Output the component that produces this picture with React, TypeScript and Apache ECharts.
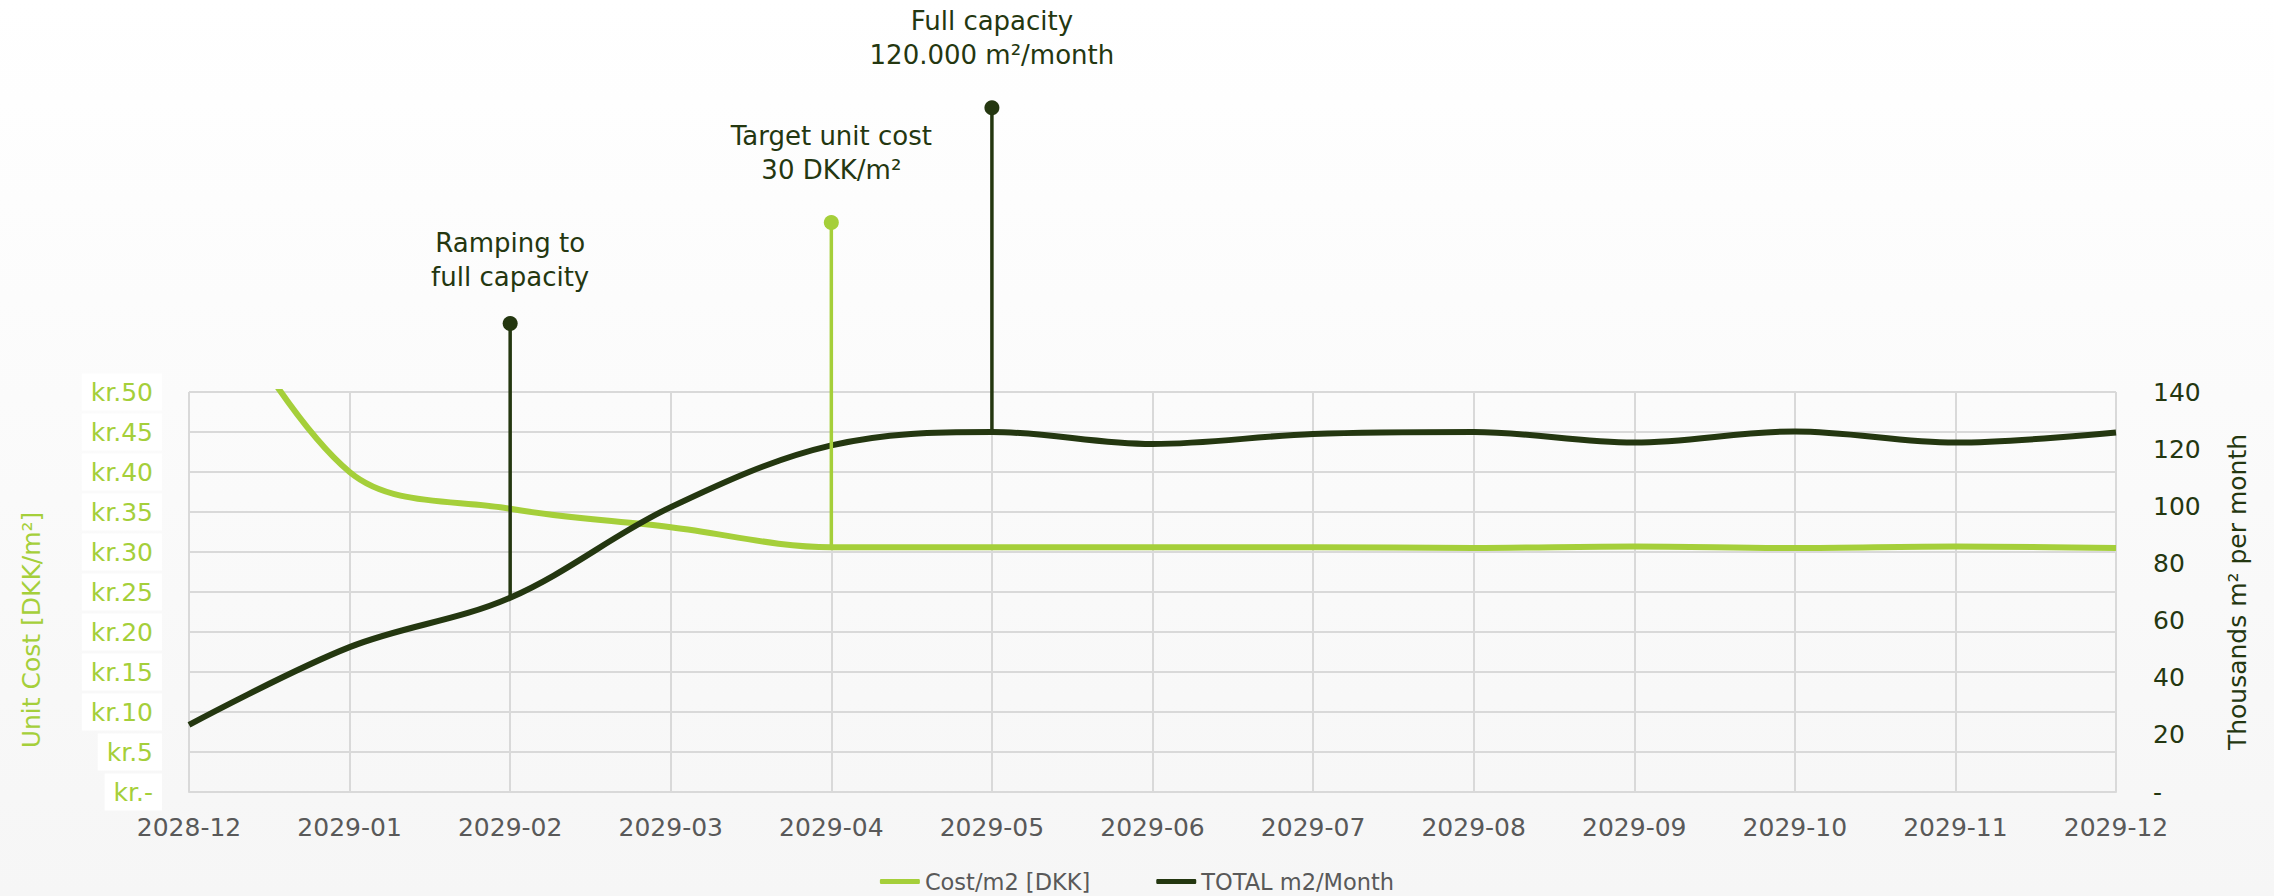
import React, { useEffect, useRef } from 'react';
import * as echarts from 'echarts';

const months = ['2028-12', '2029-01', '2029-02', '2029-03', '2029-04', '2029-05', '2029-06', '2029-07', '2029-08', '2029-09', '2029-10', '2029-11', '2029-12'];
const costPerM2 = [69, 40.0, 35.4, 33.1, 30.6, 30.6, 30.6, 30.6, 30.5, 30.7, 30.5, 30.7, 30.5];
const totalM2 = [23.5, 50.7, 68, 99.7, 121.3, 126, 121.8, 125.3, 126, 122.3, 126.2, 122.3, 125.8];

const costName = 'Cost/m2 [DKK]';
const totalName = 'TOTAL m2/Month';

// annotation: month, which series it sits on, label, top of the pin (in that series' axis units)
const annotations = [
  { month: '2029-02', on: 'total', text: 'Ramping to\nfull capacity', top: 164 },
  { month: '2029-04', on: 'cost', text: 'Target unit cost\n30 DKK/m²', top: 71.2 },
  { month: '2029-05', on: 'total', text: 'Full capacity\n120.000 m²/month', top: 239.5 },
];
const annotationTextGap = [29, 35, 35];

const GREEN = '#a5cf3a';
const DARK = '#243710';
const GRID = '#d9d9d9';
const FONT = 'DejaVu Sans';

export default function App() {
  const ref = useRef<HTMLDivElement>(null);
  useEffect(() => {
    document.body.style.margin = '0';
    const chart = echarts.init(ref.current!, undefined, { renderer: 'svg' });

    const annSeries = annotations.map((a, i) => {
      const idx = months.indexOf(a.month);
      const base = a.on === 'cost' ? costPerM2[idx] : totalM2[idx];
      const color = a.on === 'cost' ? GREEN : DARK;
      return {
        type: 'custom',
        name: 'ann' + i,
        yAxisIndex: a.on === 'cost' ? 0 : 1,
        clip: false,
        silent: true,
        z: 5,
        data: [[idx, base, a.top]],
        renderItem: (params: any, api: any) => {
          const p0 = api.coord([api.value(0), api.value(1)]);
          const p1 = api.coord([api.value(0), api.value(2)]);
          return {
            type: 'group',
            children: [
              { type: 'line', shape: { x1: p0[0], y1: p0[1], x2: p1[0], y2: p1[1] }, style: { stroke: color, lineWidth: 3.5 } },
              { type: 'circle', shape: { cx: p1[0], cy: p1[1], r: 7.5 }, style: { fill: color } },
              {
                type: 'text',
                x: p1[0],
                y: p1[1] - annotationTextGap[i],
                style: {
                  text: a.text,
                  fill: DARK,
                  fontSize: 26,
                  fontFamily: FONT,
                  align: 'center',
                  verticalAlign: 'bottom',
                  lineHeight: 34.5,
                },
              },
            ],
          };
        },
      };
    });

    chart.setOption({
      animation: false,
      backgroundColor: new echarts.graphic.LinearGradient(0, 0, 0, 1, [
        { offset: 0, color: '#ffffff' },
        { offset: 1, color: '#f6f6f6' },
      ]),
      textStyle: { fontFamily: FONT },
      grid: { left: 189, right: 158, top: 392, bottom: 104, containLabel: false },
      legend: {
        data: [
          { name: costName, icon: 'roundRect' },
          { name: totalName, icon: 'roundRect' },
        ],
        left: 'center',
        top: 865,
        itemWidth: 40,
        itemHeight: 5,
        itemGap: 66,
        textStyle: { color: '#595959', fontSize: 22.5, fontFamily: FONT },
      },
      xAxis: {
        type: 'category',
        data: months,
        boundaryGap: false,
        axisTick: { show: false },
        axisLine: { lineStyle: { color: GRID, width: 2 } },
        splitLine: { show: true, lineStyle: { color: GRID, width: 2 } },
        axisLabel: { color: '#595959', fontSize: 25, margin: 23, fontFamily: FONT },
      },
      yAxis: [
        {
          type: 'value',
          min: 0,
          max: 50,
          interval: 5,
          axisLine: { show: false },
          axisTick: { show: false },
          splitLine: { show: true, lineStyle: { color: GRID, width: 2 } },
          axisLabel: {
            color: GREEN,
            fontSize: 25,
            fontFamily: FONT,
            margin: 27,
            backgroundColor: '#ffffff',
            padding: [6, 9, 6, 9],
            formatter: (v: number) => (v === 0 ? 'kr.-' : 'kr.' + v),
          },
        },
        {
          type: 'value',
          min: 0,
          max: 140,
          interval: 20,
          position: 'right',
          axisLine: { show: false },
          axisTick: { show: false },
          splitLine: { show: false },
          axisLabel: {
            color: DARK,
            fontSize: 25,
            fontFamily: FONT,
            margin: 37,
            formatter: (v: number) => (v === 0 ? '-' : String(v)),
          },
        },
      ],
      graphic: [
        {
          type: 'text',
          x: 31,
          y: 630,
          rotation: Math.PI / 2,
          style: { text: 'Unit Cost [DKK/m²]', fill: GREEN, fontSize: 25, fontFamily: FONT, align: 'center', verticalAlign: 'middle' },
        },
        {
          type: 'text',
          x: 2237,
          y: 592,
          rotation: Math.PI / 2,
          style: { text: 'Thousands m² per month', fill: DARK, fontSize: 25, fontFamily: FONT, align: 'center', verticalAlign: 'middle' },
        },
      ],
      series: [
        {
          name: costName,
          type: 'line',
          yAxisIndex: 0,
          data: costPerM2,
          smooth: 0.35,
          symbol: 'none',
          lineStyle: { color: GREEN, width: 6 },
          itemStyle: { color: GREEN },
          z: 3,
        },
        {
          name: totalName,
          type: 'line',
          yAxisIndex: 1,
          data: totalM2,
          smooth: 0.35,
          symbol: 'none',
          lineStyle: { color: DARK, width: 6 },
          itemStyle: { color: DARK },
          z: 4,
        },
        ...annSeries,
      ],
    } as any);
    return () => chart.dispose();
  }, []);
  return <div ref={ref} style={{ width: 2274, height: 896 }} />;
}
